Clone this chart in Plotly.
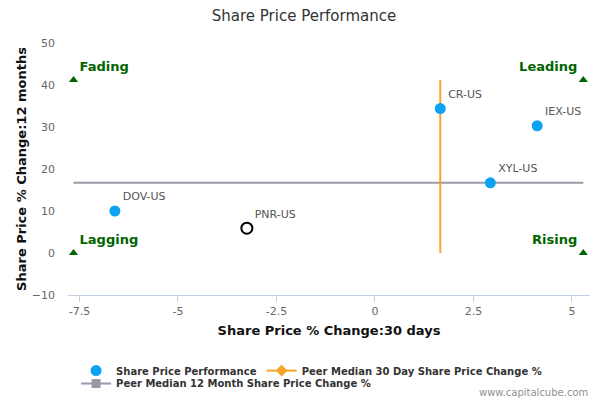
import plotly.graph_objects as go

# share price performance: 30 day change (x) vs 12 month change (y)
tickers = ["DOV-US", "PNR-US", "CR-US", "IEX-US", "XYL-US"]
chg_30d = [-6.6, -3.25, 1.66, 4.12, 2.93]
chg_12m = [10.0, 5.9, 34.4, 30.3, 16.7]

# peer medians
median_30d = 1.66
median_12m = 16.7

# quadrant markers
quad_names = ["Fading", "Lagging", "Leading", "Rising"]
quad_x = [-7.65, -7.65, 5.29, 5.29]
quad_y = [41.2, 0.0, 41.2, 0.0]

x_ticks = [-7.5, -5, -2.5, 0, 2.5, 5]
y_ticks = [-10, 0, 10, 20, 30, 40, 50]

blue = "#0ba3f2"
orange = "#f7a428"
grey = "#989aa6"
green = "#006400"

fig = go.Figure()

# median lines (drawn, no legend)
fig.add_trace(go.Scatter(
    x=[quad_x[0], quad_x[2]], y=[median_12m, median_12m], mode="lines",
    line=dict(color=grey, width=2), showlegend=False, hoverinfo="skip"))
fig.add_trace(go.Scatter(
    x=[median_30d, median_30d], y=[quad_y[1], quad_y[0]], mode="lines",
    line=dict(color=orange, width=2), showlegend=False, hoverinfo="skip"))

# company points (PNR-US is the highlighted one)
colors = [blue if t != "PNR-US" else "white" for t in tickers]
line_cols = [blue if t != "PNR-US" else "black" for t in tickers]
line_w = [0 if t != "PNR-US" else 2 for t in tickers]
fig.add_trace(go.Scatter(
    x=chg_30d, y=chg_12m, mode="markers+text", text=tickers,
    textposition="top right",
    textfont=dict(size=11, color="#555555"),
    marker=dict(size=11, color=colors, line=dict(color=line_cols, width=line_w)),
    showlegend=False))

# quadrant labels
fig.add_trace(go.Scatter(
    x=quad_x, y=quad_y, mode="markers+text", text=quad_names,
    textposition=["top right", "top right", "top left", "top left"],
    textfont=dict(size=13, color=green, family="DejaVu Sans, sans-serif"),
    texttemplate="<b>%{text}</b>",
    marker=dict(symbol="triangle-up", size=8, color=green),
    showlegend=False, hoverinfo="skip"))

# legend entries (two legends so the rows wrap like the original)
fig.add_trace(go.Scatter(x=[None], y=[None], mode="markers",
                         name="<b>Share Price Performance</b>",
                         marker=dict(size=11, color=blue), legend="legend"))
fig.add_trace(go.Scatter(x=[None], y=[None], mode="lines+markers",
                         name="<b>Peer Median 30 Day Share Price Change %</b>",
                         line=dict(color=orange, width=2),
                         marker=dict(symbol="diamond", size=9, color=orange),
                         legend="legend"))
fig.add_trace(go.Scatter(x=[None], y=[None], mode="lines+markers",
                         name="<b>Peer Median 12 Month Share Price Change %</b>",
                         line=dict(color=grey, width=2),
                         marker=dict(symbol="square", size=9, color=grey),
                         legend="legend2"))

legend_font = dict(size=10, color="#333333", family="DejaVu Sans, sans-serif")

# page has an 8px body margin, so the figure is 592x392 from (8, 8)
fig.update_layout(
    width=592, height=392,
    plot_bgcolor="white", paper_bgcolor="white",
    font=dict(family="DejaVu Sans, sans-serif", size=11, color="#333333"),
    title=dict(text="Share Price Performance", x=0.5, xanchor="center",
               xref="container", y=0.98, yanchor="middle",
               font=dict(size=15, color="#333333")),
    margin=dict(l=60, r=10, t=35, b=105),
    legend=dict(orientation="h", xref="container", yref="container",
                x=0.115, y=0.112, xanchor="left", yanchor="top",
                bgcolor="rgba(0,0,0,0)", font=legend_font, tracegroupgap=0),
    legend2=dict(orientation="h", xref="container", yref="container",
                 x=0.115, y=0.079, xanchor="left", yanchor="top",
                 bgcolor="rgba(0,0,0,0)", font=legend_font, tracegroupgap=0),
    xaxis=dict(
        range=[-7.79, 5.46], tickvals=x_ticks, ticktext=[str(v) for v in x_ticks],
        showgrid=False, zeroline=False, showline=True, linecolor="#c0d0e0",
        ticks="outside", tickcolor="#c0d0e0", ticklen=6,
        tickfont=dict(size=11, color="#666666"),
        title=dict(text="<b>Share Price % Change:30 days</b>",
                   font=dict(size=13, color="#111111"), standoff=8)),
    yaxis=dict(
        range=[-10, 50], tickvals=y_ticks, showgrid=False, zeroline=False,
        showline=False, tickfont=dict(size=11, color="#666666"),
        ticklabelstandoff=12,
        title=dict(text="<b>Share Price % Change:12 months</b>",
                   font=dict(size=13, color="#111111"), standoff=2)),
    annotations=[dict(text="www.capitalcube.com", xref="paper", yref="paper",
                      x=1, y=-0.385, xanchor="right", yanchor="middle", showarrow=False,
                      font=dict(size=10, color="#909090"))],
)

fig.write_html("out.html")
